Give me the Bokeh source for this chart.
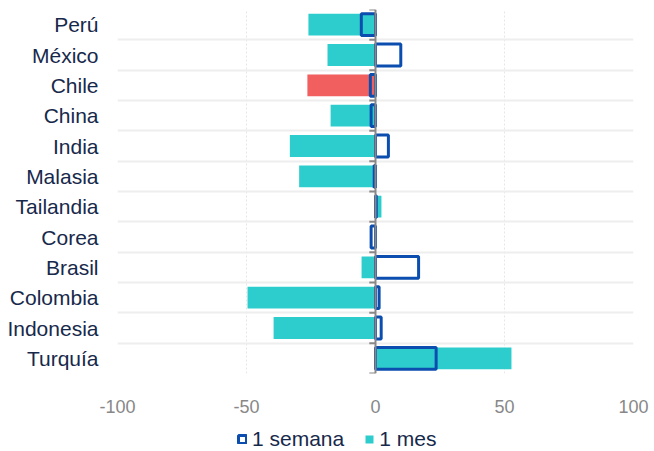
from bokeh.plotting import figure
from bokeh.layouts import column
from bokeh.models import (Range1d, FixedTicker, Legend, LegendItem, ColumnDataSource)
from bokeh.embed import file_html
from bokeh.resources import INLINE

# ---- data (top to bottom) ----
paises = ["Perú", "México", "Chile", "China", "India", "Malasia", "Tailandia",
          "Corea", "Brasil", "Colombia", "Indonesia", "Turquía"]
semana = [-5.5, 9.8, -2.0, -1.7, 5.0, -0.5, 0.3, -1.7, 16.7, 1.4, 2.2, 23.5]
mes = [-26.0, -18.6, -26.4, -17.4, -33.2, -29.6, 2.3, -0.5, -5.4, -49.6, -39.5, 52.7]
x_ticks = [-100, -50, 0, 50, 100]
x_labels = ["-100", "-50", "0", "50", "100"]
series = ["1 semana", "1 mes"]

CYAN = "#2ecdcd"
RED = "#f25f5f"
BLUE = "#0b4eb0"
NAVY = "#17294b"
GRAY = "#888888"
FONT = "Liberation Sans"

n = len(paises)
ypos = [n - i - 0.5 for i in range(n)]
colores = [RED if p == "Chile" else CYAN for p in paises]

src = ColumnDataSource(dict(y=ypos, semana=semana, mes=mes, color=colores, pais=paises))

p = figure(width=654, height=418, output_backend="svg", toolbar_location=None,
           x_range=Range1d(-100, 100), y_range=Range1d(0, n),
           min_border_left=117, min_border_right=21, min_border_top=9, min_border_bottom=45)
p.outline_line_color = None
p.background_fill_color = "white"
p.border_fill_color = "white"

# grids
p.xgrid.ticker = FixedTicker(ticks=x_ticks)
p.xgrid.grid_line_color = "#e6e6e6"
p.xgrid.grid_line_dash = "2 2"
p.xgrid.grid_line_width = 1
p.ygrid.ticker = FixedTicker(ticks=list(range(n + 1)))
p.ygrid.grid_line_color = "#eeeeee"
p.ygrid.grid_line_width = 2

# bars
r_mes = p.hbar(y="y", right="mes", left=0, height=0.72, fill_color="color",
               line_color=None, source=src)
r_sem = p.hbar(y="y", right="semana", left=0, height=0.72, fill_color=None,
               line_color=BLUE, line_width=3, source=src)

# category axis line at zero with boundary ticks
bounds = list(range(n + 1))
p.segment(x0=[0] * len(bounds), x1=[-2.4] * len(bounds), y0=bounds, y1=bounds,
          line_color=GRAY, line_width=2)
p.segment(x0=[0], x1=[0], y0=[0], y1=[n], line_color=GRAY, line_width=2)

# axes
p.xaxis.ticker = FixedTicker(ticks=x_ticks)
p.xaxis.major_label_overrides = {t: s for t, s in zip(x_ticks, x_labels)}
p.xaxis.axis_line_color = None
p.xaxis.major_tick_line_color = None
p.xaxis.minor_tick_line_color = None
p.xaxis.major_label_text_color = GRAY
p.xaxis.major_label_text_font = FONT
p.xaxis.major_label_text_font_size = "18px"
p.xaxis.major_label_standoff = 20

p.yaxis.ticker = FixedTicker(ticks=ypos)
p.yaxis.major_label_overrides = {y: name for y, name in zip(ypos, paises)}
p.yaxis.axis_line_color = None
p.yaxis.major_tick_line_color = None
p.yaxis.minor_tick_line_color = None
p.yaxis.major_tick_out = 0
p.yaxis.major_label_text_color = NAVY
p.yaxis.major_label_text_font = FONT
p.yaxis.major_label_text_font_size = "21px"
p.yaxis.major_label_standoff = 19

# ---- legend strip (keys kept outside the visible range) ----
lg = figure(width=654, height=33, output_backend="svg", toolbar_location=None,
            x_range=Range1d(0, 1), y_range=Range1d(0, 1),
            min_border_left=117, min_border_right=21, min_border_top=0, min_border_bottom=0)
lg.axis.visible = False
lg.grid.visible = False
lg.outline_line_color = None
lg.border_fill_color = "white"
key_src = ColumnDataSource(dict(y=[-5], r=[0]))
k_sem = lg.hbar(y="y", right="r", left=0, height=0.5, fill_color=None,
                line_color=BLUE, line_width=3, source=key_src)
k_mes = lg.hbar(y="y", right="r", left=0, height=0.5, fill_color=CYAN,
                line_color=None, source=key_src)
legend = Legend(items=[LegendItem(label=series[0], renderers=[k_sem], index=0),
                       LegendItem(label=series[1], renderers=[k_mes], index=0)],
                orientation="horizontal", location=(120, 0),
                label_text_font=FONT, label_text_font_size="21px",
                label_text_color=NAVY, glyph_width=10, glyph_height=10,
                label_standoff=5, spacing=20, padding=0, margin=0,
                label_height=22, border_line_color=None, background_fill_alpha=0)
lg.add_layout(legend, "center")

layout = column(p, lg, spacing=0)
open("out.html", "w").write(file_html(layout, INLINE))
